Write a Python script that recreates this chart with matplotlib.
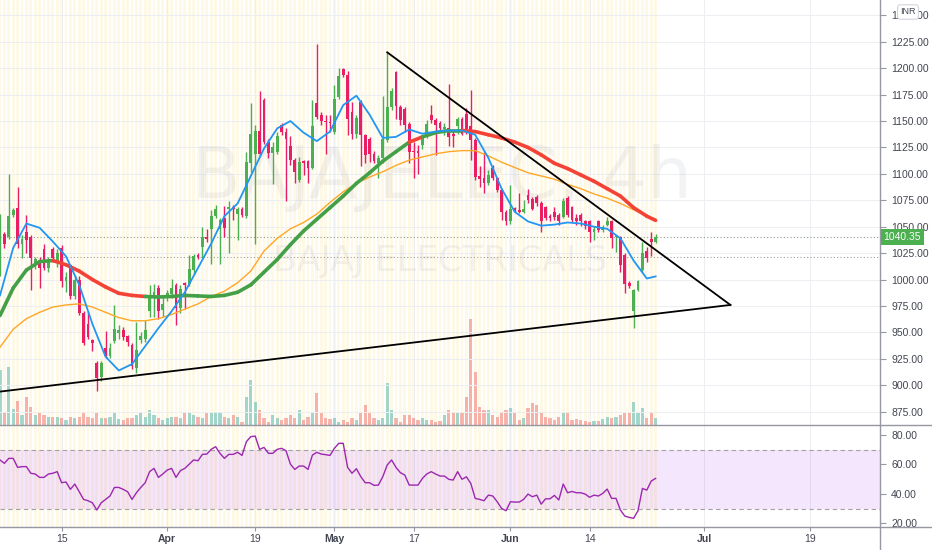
import numpy as np
import matplotlib.pyplot as plt
from matplotlib.collections import LineCollection
from matplotlib.lines import Line2D
import matplotlib.transforms as mtransforms

# BAJAJELEC 4h candles (bar 0 = first visible bar)
opens = [1009, 1043, 1040, 1061, 1068, 1034, 1045, 1040, 1015, 1018,
         1029, 1011, 1029, 1018, 1030, 999, 1014, 984, 1000, 968,
         958, 943, 921, 908, 935, 928, 942, 949, 952, 947,
         938, 916, 943, 944, 970, 983, 992, 971, 984, 986,
         995, 973, 997, 996, 1009, 1023, 1031, 1040, 1048, 1060,
         1048, 1058, 1067, 1069, 1062, 1067, 1060, 1110, 1119, 1141,
         1170, 1130, 1120, 1121, 1146, 1140, 1126, 1113, 1094, 1112,
         1112, 1106, 1167, 1156, 1150, 1149, 1140, 1173, 1199, 1194,
         1159, 1138, 1168, 1137, 1133, 1119, 1110, 1115, 1132, 1163,
         1196, 1163, 1161, 1147, 1122, 1122, 1127, 1137, 1156, 1151,
         1148, 1142, 1143, 1138, 1145, 1152, 1157, 1145, 1132, 1098,
         1096, 1091, 1106, 1096, 1085, 1064, 1055, 1068, 1066, 1064,
         1080, 1076, 1078, 1072, 1069, 1060, 1064, 1061, 1059, 1077,
         1069, 1058, 1061, 1055, 1055, 1045, 1055, 1047, 1052, 1055,
         1040, 1040, 1023, 997, 970, 990, 1009, 1027, 1038, 1036]
highs = [1062, 1045, 1100, 1068, 1088, 1042, 1061, 1042, 1021, 1021,
         1034, 1021, 1031, 1029, 1033, 1007, 1015, 1004, 1003, 970,
         970, 944, 923, 923, 951, 940, 976, 957, 955, 948,
         940, 960, 950, 962, 995, 996, 995, 985, 990, 1001,
         997, 995, 998, 1023, 1024, 1025, 1050, 1048, 1066, 1071,
         1058, 1070, 1074, 1071, 1069, 1069, 1121, 1167, 1146, 1178,
         1172, 1133, 1130, 1140, 1148, 1143, 1136, 1115, 1116, 1113,
         1113, 1170, 1223, 1159, 1156, 1156, 1184, 1200, 1200, 1197,
         1168, 1156, 1170, 1138, 1135, 1122, 1118, 1174, 1215, 1181,
         1197, 1165, 1163, 1149, 1130, 1127, 1137, 1151, 1165, 1153,
         1150, 1148, 1185, 1141, 1154, 1154, 1162, 1179, 1134, 1107,
         1121, 1104, 1108, 1097, 1086, 1066, 1089, 1069, 1082, 1075,
         1086, 1078, 1080, 1074, 1070, 1062, 1069, 1063, 1077, 1079,
         1070, 1062, 1063, 1056, 1056, 1051, 1056, 1052, 1059, 1056,
         1042, 1041, 1025, 999, 991, 1000, 1036, 1031, 1045, 1043]
lows = [1003, 1030, 1038, 1059, 1030, 1020, 1025, 990, 1010, 992,
        1009, 1007, 1017, 1012, 993, 988, 982, 982, 966, 938,
        944, 932, 895, 904, 926, 926, 940, 944, 943, 937,
        915, 912, 940, 941, 965, 965, 963, 965, 980, 983,
        957, 968, 972, 994, 1005, 1019, 1020, 1036, 1015, 1058,
        1015, 1040, 1025, 1056, 1037, 1059, 1058, 1102, 1034, 1117,
        1128, 1115, 1090, 1119, 1137, 1074, 1108, 1091, 1092, 1099,
        1091, 1105, 1152, 1146, 1119, 1140, 1138, 1171, 1192, 1137,
        1133, 1134, 1107, 1110, 1111, 1110, 1096, 1110, 1130, 1160,
        1152, 1146, 1140, 1110, 1096, 1100, 1124, 1134, 1148, 1118,
        1140, 1137, 1126, 1125, 1138, 1137, 1138, 1113, 1094, 1088,
        1082, 1089, 1094, 1083, 1056, 1052, 1053, 1064, 1063, 1063,
        1072, 1066, 1070, 1045, 1056, 1055, 1056, 1052, 1058, 1059,
        1054, 1052, 1051, 1048, 1036, 1037, 1045, 1045, 1051, 1030,
        1026, 1007, 987, 992, 954, 989, 1007, 1017, 1022, 1035]
closes = [1052, 1034, 1060, 1066, 1034, 1038, 1037, 1020, 1019, 1011,
          1011, 1018, 1020, 1025, 999, 1002, 984, 1000, 968, 940,
          946, 940, 907, 921, 928, 935, 953, 952, 946, 941,
          918, 933, 947, 952, 984, 988, 970, 977, 987, 992,
          973, 991, 995, 1010, 1022, 1021, 1040, 1038, 1060, 1067,
          1056, 1049, 1069, 1067, 1067, 1061, 1111, 1138, 1141, 1119,
          1130, 1120, 1125, 1136, 1140, 1133, 1113, 1102, 1111, 1110,
          1106, 1145, 1154, 1150, 1149, 1148, 1171, 1193, 1194, 1152,
          1138, 1153, 1137, 1118, 1119, 1112, 1115, 1133, 1163, 1178,
          1164, 1151, 1146, 1121, 1121, 1120, 1134, 1147, 1151, 1146,
          1143, 1144, 1135, 1136, 1152, 1138, 1142, 1132, 1097, 1095,
          1091, 1099, 1096, 1085, 1064, 1055, 1067, 1066, 1064, 1067,
          1075, 1067, 1072, 1055, 1058, 1058, 1059, 1055, 1074, 1061,
          1056, 1055, 1055, 1051, 1045, 1048, 1047, 1050, 1055, 1039,
          1041, 1014, 996, 994, 990, 999, 1025, 1020, 1036, 1040.35]
volume = [55, 13, 58, 16, 24, 10, 28, 18, 10, 12,
          10, 8, 8, 8, 7, 5, 8, 7, 8, 12,
          8, 7, 12, 7, 7, 8, 13, 6, 5, 7,
          7, 10, 12, 8, 15, 10, 7, 5, 7, 8,
          8, 7, 13, 12, 10, 8, 7, 12, 13, 13,
          13, 8, 7, 10, 8, 3, 28, 45, 23, 15,
          7, 3, 10, 7, 5, 7, 10, 7, 15, 5,
          8, 12, 32, 12, 7, 6, 7, 3, 5, 3,
          7, 5, 12, 20, 13, 7, 5, 7, 42, 15,
          7, 3, 10, 10, 7, 5, 7, 5, 5, 3,
          4, 10, 15, 12, 13, 12, 28, 107, 53, 18,
          15, 15, 10, 8, 13, 15, 17, 12, 5, 7,
          17, 22, 20, 13, 8, 7, 5, 8, 13, 12,
          5, 6, 5, 4, 3, 4, 4, 6, 8, 7,
          8, 10, 12, 12, 23, 12, 17, 7, 12, 7]
rsi = [62.9, 60.6, 64.0, 64.0, 57.9, 58.4, 58.4, 53.9, 53.4, 51.1,
       51.1, 53.4, 53.9, 55.0, 47.5, 48.0, 43.0, 46.6, 41.4, 36.2,
       35.3, 33.9, 29.0, 33.9, 36.2, 38.5, 44.3, 44.3, 43.0, 41.4,
       36.2, 40.7, 44.3, 47.5, 55.0, 57.2, 51.1, 53.4, 56.1, 57.2,
       51.1, 55.7, 57.2, 60.1, 62.9, 62.4, 66.7, 66.9, 70.1, 71.9,
       67.4, 64.0, 66.7, 66.7, 68.1, 66.0, 75.3, 78.7, 79.1, 70.1,
       71.4, 67.4, 67.4, 70.1, 70.8, 69.2, 60.1, 56.5, 58.8, 58.8,
       56.5, 66.2, 68.1, 66.9, 66.5, 66.0, 70.8, 74.2, 74.2, 57.9,
       53.9, 57.0, 51.6, 47.5, 47.5, 45.7, 45.9, 51.6, 59.5, 62.9,
       57.9, 54.3, 52.7, 45.9, 45.9, 45.9, 50.4, 53.4, 55.0, 53.4,
       52.0, 52.0, 49.8, 49.3, 55.0, 49.8, 51.5, 47.0, 36.9, 36.2,
       35.3, 39.1, 38.5, 34.6, 30.1, 28.5, 34.6, 34.4, 34.4, 36.2,
       39.8, 38.0, 39.1, 33.0, 36.6, 36.6, 38.9, 35.8, 46.6, 40.7,
       41.6, 40.7, 40.7, 39.8, 37.6, 39.1, 38.5, 40.3, 43.2, 36.9,
       36.9, 29.0, 24.9, 24.0, 23.4, 28.5, 43.6, 42.5, 48.6, 50.4]

# moving averages, read every third bar
ma_idx = list(range(0, 148, 3)) + [149]
ma_fast = [985, 1030, 1053, 1049, 1036, 1022, 995, 958, 927, 914,
           920, 937, 954, 970, 988, 1011, 1034, 1060, 1072, 1098,
           1124, 1143, 1150, 1139, 1131, 1140, 1165, 1174, 1156, 1134,
           1135, 1142, 1138, 1140, 1141, 1141, 1137, 1115, 1086, 1064,
           1055, 1051, 1052, 1054, 1053, 1050, 1048, 1039, 1018, 1001,
           1003]
ma_mid = [966, 992, 1009, 1017, 1018, 1014, 1008, 1000, 993, 987,
          985, 984, 983.5, 984, 985, 984.5, 984, 985, 988, 995,
          1007, 1019, 1033, 1046, 1057, 1068, 1079, 1091, 1101, 1112,
          1121, 1130, 1135, 1139, 1141, 1141, 1140, 1137, 1134, 1130,
          1125, 1118, 1110, 1105, 1099, 1093, 1086, 1079, 1068, 1060,
          1056]
ma_mid_runs = [('up', 4), ('down', 7), ('up', 20), ('down', 1), ('up', 3), ('down', 15)]
ma_slow = [936, 953, 963, 969, 974, 976, 977, 974, 969, 964,
           961, 961, 963, 967, 972, 977, 984, 989, 997, 1008,
           1027, 1039, 1048, 1054, 1062, 1073, 1083, 1091, 1097, 1102,
           1108, 1113, 1116, 1119, 1121, 1122, 1122, 1117, 1111, 1106,
           1101, 1098, 1095, 1090, 1086, 1081, 1077, 1072, 1066, 1060,
           1057]

# drawn trend lines (bar, price)
trend_upper = ([88, 166], [1215, 976])
trend_lower = ([0, 166], [894, 976])

last_price = 1040.35
prev_close = 1021.0
price_ticks = list(range(875, 1251, 25))
rsi_ticks = [20, 40, 60, 80]
tick_bars = [14, 38, 58, 76, 94, 116, 134, 160, 184]
tick_labels = ['15', 'Apr', '19', 'May', '17', 'Jun', '14', 'Jul', '19']
month_names = ['Apr', 'May', 'Jun', 'Jul']

UP = '#4caf50'
DOWN = '#e91e63'
STRIPE = '#fef8e6'
AXIS = '#9598a1'
TXT = '#434651'

plt.rcParams['font.family'] = ['Liberation Sans', 'DejaVu Sans']

W, H = 932, 550
fig = plt.figure(figsize=(W / 100, H / 100), dpi=100)

ax = fig.add_axes([0, 125 / H, 880 / W, 425 / H])
vax = ax.twinx()
ax.set_zorder(vax.get_zorder() + 1)
ax.patch.set_visible(False)
rsi_ax = fig.add_axes([0, 23 / H, 880 / W, 102 / H], sharex=ax)

n = len(closes)
idx = np.arange(n)
o = np.array(opens, float)
c = np.array(closes, float)
up = c >= o
cols = np.where(up, UP, DOWN)

# session stripes
for i in idx:
    vax.axvspan(i - 0.34, i + 0.34, color=STRIPE, lw=0, zorder=0)
    rsi_ax.axvspan(i - 0.34, i + 0.34, color=STRIPE, lw=0, zorder=0)

# grid
for p in price_ticks:
    ax.axhline(p, color='#eceef2', lw=0.7, zorder=0.3)
for t in tick_bars:
    vax.axvline(t, color='#eceef2', lw=0.7, zorder=0.2)
    rsi_ax.axvline(t, color='#eceef2', lw=0.7, zorder=0.2)

# volume
vcols = np.where(up, '#26a69a', '#ef5350')
vax.bar(idx, volume, width=0.7, color=vcols, alpha=0.42, lw=0, zorder=1)
vax.set_ylim(0, max(volume) / 0.25)
vax.set_yticks([])

# watermark
ax.text(0.502, 1 - 198 / 425, 'BAJAJELEC, 4h', transform=ax.transAxes, ha='center',
        va='baseline', fontsize=51, family='DejaVu Sans',
        color='#787b86', alpha=0.09, zorder=0.5)
ax.text(0.5, 1 - 271 / 425, 'BAJAJ ELECTRICALS', transform=ax.transAxes, ha='center',
        va='baseline', fontsize=25, family='DejaVu Sans',
        color='#787b86', alpha=0.09, zorder=0.5)

# reference levels
ax.axhline(last_price, color='#8fa08f', lw=0.8, ls=(0, (1, 2)), zorder=1)
ax.axhline(prev_close, color='#a0a0a0', lw=0.8, ls=(0, (1, 2)), zorder=1)

# candles
ax.vlines(idx, lows, highs, colors=cols, lw=1, zorder=3)
body_lo = np.minimum(o, c)
body_h = np.maximum(np.abs(c - o), 0.9)
ax.bar(idx, body_h, bottom=body_lo, width=0.62, color=cols, lw=0, zorder=3)

# moving averages
ax.plot(ma_idx, ma_slow, color='#ffa726', lw=1.0, zorder=4)
seg_state = []
for state, count in ma_mid_runs:
    seg_state += [state] * count
pts = np.column_stack([ma_idx, ma_mid])
segs = [pts[k:k + 2] for k in range(len(pts) - 1)]
seg_cols = ['#43a047' if s == 'up' else '#f44336' for s in seg_state]
ax.add_collection(LineCollection(segs, colors=seg_cols, linewidths=2.6,
                                 capstyle='round', joinstyle='round', zorder=4))
ax.plot(ma_idx, ma_fast, color='#2196f3', lw=1.3, zorder=5)

# trend lines
ax.plot(*trend_upper, color='black', lw=1.3, zorder=6)
ax.plot(*trend_lower, color='black', lw=1.3, zorder=6)

ax.set_xlim(0, 200)
ax.set_ylim(862.4, 1264.5)
ax.yaxis.tick_right()
ax.set_yticks(price_ticks)
ax.set_yticklabels(['%.2f' % p for p in price_ticks])
ax.tick_params(axis='y', direction='out', length=4, width=0.8, color=AXIS,
               labelsize=7.5, labelcolor=TXT, pad=4)
ax.tick_params(axis='x', bottom=False, labelbottom=False)
for a in (ax, vax, rsi_ax):
    for s in a.spines.values():
        s.set_visible(False)

# last price tag
blend = mtransforms.blended_transform_factory(ax.transAxes, ax.transData)
ax.text(1.004, last_price, '%.2f' % last_price, transform=blend, ha='left', va='center',
        fontsize=7.5, color='white', clip_on=False, zorder=10,
        bbox=dict(boxstyle='square,pad=0.3', fc=UP, ec='none'))

# RSI pane
rsi_ax.axhspan(30, 70, color='#9b1ee6', alpha=0.11, lw=0, zorder=1)
rsi_ax.axhline(70, color='#a3a3a3', lw=0.8, ls=(0, (4, 3)), zorder=2)
rsi_ax.axhline(30, color='#a3a3a3', lw=0.8, ls=(0, (4, 3)), zorder=2)
rsi_ax.plot(idx, rsi, color='#9c27b0', lw=1.0, zorder=3)
rsi_ax.set_ylim(17.5, 86.6)
rsi_ax.yaxis.tick_right()
rsi_ax.set_yticks(rsi_ticks)
rsi_ax.set_yticklabels(['%.2f' % v for v in rsi_ticks])
rsi_ax.tick_params(axis='y', direction='out', length=4, width=0.8, color=AXIS,
                   labelsize=7.5, labelcolor=TXT, pad=4)
rsi_ax.set_xticks(tick_bars)
rsi_ax.set_xticklabels(tick_labels)
rsi_ax.tick_params(axis='x', direction='out', length=3, width=0.8, color=AXIS,
                   labelsize=7.5, labelcolor=TXT, pad=2)
for lab in rsi_ax.get_xticklabels():
    if lab.get_text() in month_names:
        lab.set_fontweight('bold')
rsi_ax.set_xlim(0, 200)

# pane borders
fig.add_artist(Line2D([880 / W, 880 / W], [0, 1], color=AXIS, lw=1))
fig.add_artist(Line2D([0, 1], [1 - 425 / H, 1 - 425 / H], color=AXIS, lw=1))
fig.add_artist(Line2D([0, 1], [1 - 527 / H, 1 - 527 / H], color=AXIS, lw=1))

# currency badge
fig.text(908 / W, 1 - 12 / H, 'INR', ha='center', va='center', fontsize=6.5, color=TXT,
         bbox=dict(boxstyle='round,pad=0.3', fc='white', ec='#d1d4dc', lw=0.8), zorder=20)

fig.savefig('out.png', dpi=100)
